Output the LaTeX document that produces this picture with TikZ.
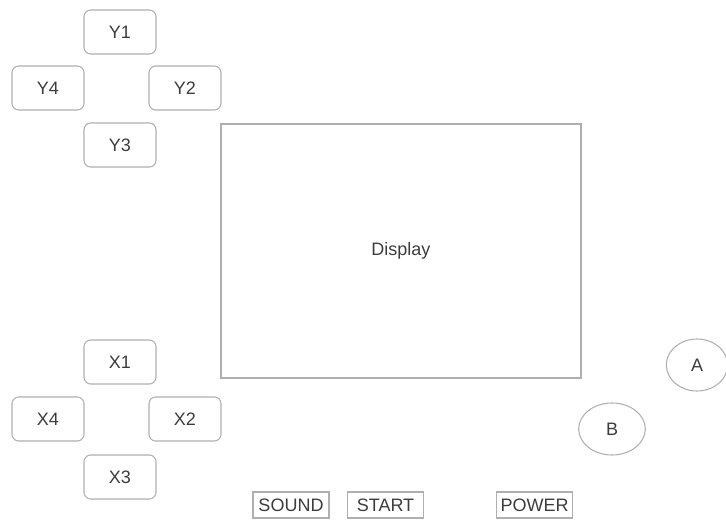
\documentclass[tikz,border=0pt]{standalone}
\usepackage{fontspec}
\setmainfont{Liberation Sans}
\usetikzlibrary{positioning,shapes.geometric}
\definecolor{framegray}{RGB}{175,175,175}
\definecolor{labelgray}{RGB}{60,60,60}

\begin{document}
\begin{tikzpicture}[x=0.75pt,y=-0.75pt,
  every node/.style={align=center,font=\fontsize{13.5}{15}\selectfont,text=labelgray},
  padkey/.style={draw=framegray,thick,rounded corners=5pt,minimum width=54pt,minimum height=33pt},
  smallkey/.style={draw=framegray,line width=1.1pt,minimum width=57pt,minimum height=19.5pt,inner sep=1pt},
  roundkey/.style={draw=framegray,thick,ellipse,minimum width=46pt,minimum height=39pt}]
  \useasboundingbox (0,0) rectangle (726,521);
  % direction pad Y
  \node[padkey] (y1) at (120,32) {Y1};
  \node[padkey] (y4) at (48,88) {Y4};
  \node[padkey] (y2) at (185,88) {Y2};
  \node[padkey] (y3) at (120,145) {Y3};
  % direction pad X
  \node[padkey] (x1) at (120,362) {X1};
  \node[padkey] (x4) at (48,419) {X4};
  \node[padkey] (x2) at (185,419) {X2};
  \node[padkey] (x3) at (120,477) {X3};
  % screen
  \node[draw=framegray,thick,minimum width=270pt,minimum height=190.5pt] (display) at (401,251) {Display};
  % buttons
  \node[smallkey] (sound) at (291,505) {SOUND};
  \node[smallkey] (start) at (385.5,505) {START};
  \node[smallkey] (power) at (534.5,505) {POWER};
  \node[roundkey] (a) at (697,365) {A};
  \node[roundkey,minimum width=50pt] (b) at (612,429) {B};
\end{tikzpicture}
\end{document}
